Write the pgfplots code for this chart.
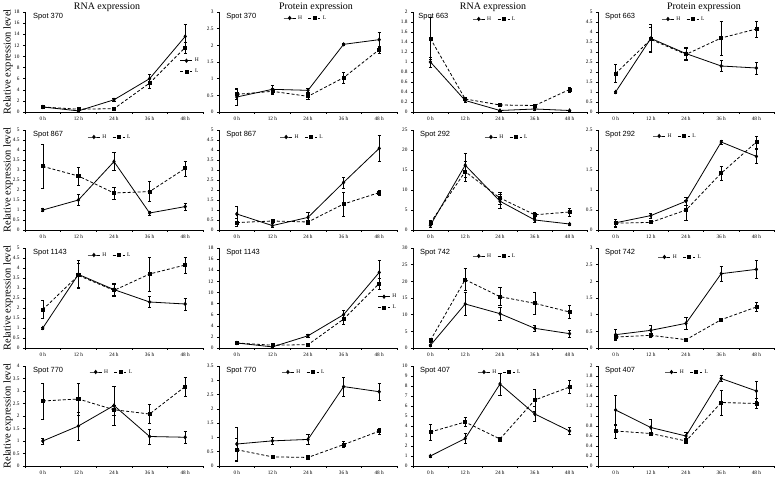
\documentclass[border=0pt]{standalone}
\usepackage{fontspec}
\setmainfont{Liberation Serif}
\setsansfont{Liberation Sans}
\usepackage{pgfplots}
\pgfplotsset{compat=1.18}
\tikzset{spot/.style={anchor=north west, inner sep=0pt, font=\sffamily\fontsize{7.5}{8}\selectfont}}
\pgfplotsset{
  base/.style={
    scale only axis, height=100bp,
    axis x line*=bottom, axis y line*=left, axis line style={-, line width=0.6bp},
    xmin=-0.5, xmax=4.5, ymin=0,
    xtick={0,1,2,3,4}, xticklabels={0 h,12 h,24 h,36 h,48 h},
    minor xtick={-0.5,0.5,1.5,2.5,3.5,4.5},
    every major x tick/.style={draw=none},
    tick align=outside, major tick length=2bp, minor tick length=2bp,
    tick style={line width=0.5bp, black},
    /pgf/number format/assume math mode=true,
    /pgf/number format/fixed, /pgf/number format/1000 sep={},
    tick label style={font=\fontsize{5.3}{6}\selectfont},
    xticklabel style={yshift=1bp},
    clip=false,
    legend style={draw=none, fill=none, inner sep=0pt, legend columns=2, anchor=west,
      font=\fontsize{5.5}{6}\selectfont,
      /tikz/every even column/.append style={column sep=4bp}},
    legend image code/.code={\draw[mark repeat=2,mark phase=2] plot coordinates {(0bp,0bp) (6bp,0bp) (12bp,0bp)};},
  },
  vleg/.style={legend style={legend columns=1, anchor=north west, row sep=2bp, at={(#1)}}},
  hleg/.style={legend style={at={(#1)}}},
  hs/.style={black, line width=0.8bp, mark=diamond*, mark size=1.6bp, mark options={solid},
    error bars/.cd, y dir=both, y explicit, error bar style={line width=0.5bp, solid},
    error mark options={rotate=90, mark size=1.6bp, line width=0.5bp, solid}},
  ls/.style={black, line width=0.8bp, dash pattern=on 3bp off 2bp, mark=square*, mark size=1.5bp, mark options={solid},
    error bars/.cd, y dir=both, y explicit, error bar style={line width=0.5bp, solid},
    error mark options={rotate=90, mark size=1.6bp, line width=0.5bp, solid}},
}
\begin{document}
\begin{tikzpicture}
\useasboundingbox (0bp,0bp) rectangle (778bp,478bp);
% titles
\node[font=\fontsize{10}{12}\selectfont] at (107bp,471bp) {RNA expression};
\node[font=\fontsize{10}{12}\selectfont] at (316bp,471bp) {Protein expression};
\node[font=\fontsize{10}{12}\selectfont] at (493bp,471bp) {RNA expression};
\node[font=\fontsize{10}{12}\selectfont] at (704bp,471bp) {Protein expression};
\foreach \yy in {416,298,180,62}{
  \node[rotate=90, font=\fontsize{10.5}{12}\selectfont] at (8bp,\yy bp) {Relative expression level};
}
%================ ROW 1 ================
% A: Spot 370 RNA
\begin{axis}[base, at={(25bp,366bp)}, anchor=south west, width=178bp, ymax=18, ytick={0,2,4,6,8,10,12,14,16,18}, vleg={0.87,0.56}]
\addplot[hs] table[row sep=\\, y error=e]{x y e\\ 0 0.9 0.1\\ 1 0.2 0.1\\ 2 2.2 0.2\\ 3 6.0 0.8\\ 4 13.6 2.2\\};
\addplot[ls] table[row sep=\\, y error=e]{x y e\\ 0 0.9 0.1\\ 1 0.5 0.2\\ 2 0.6 0.1\\ 3 5.2 0.9\\ 4 11.6 1.0\\};
\legend{H,L}
\node[spot] at (rel axis cs:0.045,0.985) {Spot 370};
\end{axis}
% B: Spot 370 protein
\begin{axis}[base, at={(219bp,366bp)}, anchor=south west, width=178bp, ymax=3, ytick={0,0.5,1,1.5,2,2.5,3}, hleg={0.36,0.94}]
\addplot[hs] table[row sep=\\, y error=e]{x y e\\ 0 0.45 0.25\\ 1 0.68 0.12\\ 2 0.65 0.07\\ 3 2.03 0.02\\ 4 2.17 0.22\\};
\addplot[ls] table[row sep=\\, y error=e]{x y e\\ 0 0.53 0.15\\ 1 0.62 0.1\\ 2 0.47 0.08\\ 3 1.03 0.17\\ 4 1.87 0.1\\};
\legend{H,L}
\node[spot] at (rel axis cs:0.04,0.985) {Spot 370};
\end{axis}
% C: Spot 663 RNA
\begin{axis}[base, at={(413bp,366bp)}, anchor=south west, width=174bp, ymax=2, ytick={0,0.2,0.4,0.6,0.8,1,1.2,1.4,1.6,1.8,2}, hleg={0.34,0.93}]
\addplot[hs] table[row sep=\\, y error=e]{x y e\\ 0 1.0 0.1\\ 1 0.23 0.03\\ 2 0.03 0.01\\ 3 0.06 0.02\\ 4 0.03 0.01\\};
\addplot[ls] table[row sep=\\, y error=e]{x y e\\ 0 1.47 0.42\\ 1 0.26 0.03\\ 2 0.14 0.02\\ 3 0.13 0.02\\ 4 0.45 0.05\\};
\legend{H,L}
\node[spot] at (rel axis cs:0.03,0.985) {Spot 663};
\end{axis}
% D: Spot 663 protein
\begin{axis}[base, at={(598bp,366bp)}, anchor=south west, width=176bp, ymax=5, ytick={0,0.5,1,1.5,2,2.5,3,3.5,4,4.5,5}, hleg={0.36,0.93}]
\addplot[hs] table[row sep=\\, y error=e]{x y e\\ 0 1.0 0.05\\ 1 3.68 0.7\\ 2 2.92 0.3\\ 3 2.3 0.28\\ 4 2.2 0.3\\};
\addplot[ls] table[row sep=\\, y error=e]{x y e\\ 0 1.92 0.45\\ 1 3.63 0.6\\ 2 2.88 0.3\\ 3 3.7 0.85\\ 4 4.15 0.4\\};
\legend{H,L}
\node[spot] at (rel axis cs:0.04,0.985) {Spot 663};
\end{axis}
%================ ROW 2 ================
% E: Spot 867 RNA
\begin{axis}[base, at={(25bp,248bp)}, anchor=south west, width=178bp, ymax=5, ytick={0,0.5,1,1.5,2,2.5,3,3.5,4,4.5,5}, hleg={0.35,0.93}]
\addplot[hs] table[row sep=\\, y error=e]{x y e\\ 0 1.0 0.08\\ 1 1.5 0.27\\ 2 3.42 0.45\\ 3 0.85 0.1\\ 4 1.17 0.17\\};
\addplot[ls] table[row sep=\\, y error=e]{x y e\\ 0 3.18 1.1\\ 1 2.7 0.45\\ 2 1.85 0.3\\ 3 1.92 0.5\\ 4 3.08 0.38\\};
\legend{H,L}
\node[spot] at (rel axis cs:0.045,0.985) {Spot 867};
\end{axis}
% F: Spot 867 protein
\begin{axis}[base, at={(219bp,248bp)}, anchor=south west, width=178bp, ymax=5, ytick={0,0.5,1,1.5,2,2.5,3,3.5,4,4.5,5}, hleg={0.34,0.93}]
\addplot[hs] table[row sep=\\, y error=e]{x y e\\ 0 0.8 0.38\\ 1 0.22 0.1\\ 2 0.63 0.27\\ 3 2.38 0.27\\ 4 4.08 0.65\\};
\addplot[ls] table[row sep=\\, y error=e]{x y e\\ 0 0.37 0.2\\ 1 0.45 0.1\\ 2 0.4 0.1\\ 3 1.3 0.6\\ 4 1.87 0.12\\};
\legend{H,L}
\node[spot] at (rel axis cs:0.04,0.985) {Spot 867};
\end{axis}
% G: Spot 292 RNA
\begin{axis}[base, at={(413bp,248bp)}, anchor=south west, width=174bp, ymax=25, ytick={0,5,10,15,20,25}, hleg={0.41,0.93}]
\addplot[hs] table[row sep=\\, y error=e]{x y e\\ 0 1.2 0.5\\ 1 16.2 3\\ 2 7.2 1.7\\ 3 2.5 0.5\\ 4 1.5 0.3\\};
\addplot[ls] table[row sep=\\, y error=e]{x y e\\ 0 1.8 0.6\\ 1 14.6 2.5\\ 2 8.0 1.5\\ 3 3.8 0.6\\ 4 4.5 1.0\\};
\legend{H,L}
\node[spot] at (rel axis cs:0.04,0.985) {Spot 292};
\end{axis}
% H: Spot 292 protein
\begin{axis}[base, at={(598bp,248bp)}, anchor=south west, width=176bp, ymax=2.5, ytick={0,0.5,1,1.5,2,2.5}, hleg={0.31,0.94}]
\addplot[hs] table[row sep=\\, y error=e]{x y e\\ 0 0.18 0.08\\ 1 0.36 0.07\\ 2 0.72 0.1\\ 3 2.2 0.05\\ 4 1.84 0.18\\};
\addplot[ls] table[row sep=\\, y error=e]{x y e\\ 0 0.17 0.1\\ 1 0.19 0.03\\ 2 0.5 0.25\\ 3 1.42 0.18\\ 4 2.2 0.15\\};
\legend{H,L}
\node[spot] at (rel axis cs:0.04,0.985) {Spot 292};
\end{axis}
%================ ROW 3 ================
% I: Spot 1143 RNA
\begin{axis}[base, at={(25bp,130bp)}, anchor=south west, width=178bp, ymax=5, ytick={0,0.5,1,1.5,2,2.5,3,3.5,4,4.5,5}, hleg={0.35,0.93}]
\addplot[hs] table[row sep=\\, y error=e]{x y e\\ 0 1.0 0.05\\ 1 3.68 0.7\\ 2 2.92 0.3\\ 3 2.3 0.28\\ 4 2.2 0.3\\};
\addplot[ls] table[row sep=\\, y error=e]{x y e\\ 0 1.92 0.45\\ 1 3.63 0.6\\ 2 2.88 0.3\\ 3 3.7 0.85\\ 4 4.15 0.4\\};
\legend{H,L}
\node[spot] at (rel axis cs:0.045,0.985) {Spot 1143};
\end{axis}
% J: Spot 1143 protein
\begin{axis}[base, at={(219bp,130bp)}, anchor=south west, width=178bp, ymax=18, ytick={0,2,4,6,8,10,12,14,16,18}, vleg={0.89,0.56}]
\addplot[hs] table[row sep=\\, y error=e]{x y e\\ 0 0.9 0.1\\ 1 0.2 0.1\\ 2 2.2 0.2\\ 3 6.0 0.8\\ 4 13.6 2.2\\};
\addplot[ls] table[row sep=\\, y error=e]{x y e\\ 0 0.9 0.1\\ 1 0.5 0.2\\ 2 0.6 0.1\\ 3 5.2 0.9\\ 4 11.6 1.0\\};
\legend{H,L}
\node[spot] at (rel axis cs:0.04,0.985) {Spot 1143};
\end{axis}
% K: Spot 742 RNA
\begin{axis}[base, at={(413bp,130bp)}, anchor=south west, width=174bp, ymax=30, ytick={0,5,10,15,20,25,30}, hleg={0.34,0.92}]
\addplot[hs] table[row sep=\\, y error=e]{x y e\\ 0 0.8 0.3\\ 1 13.2 3.5\\ 2 10.3 2\\ 3 5.9 1\\ 4 4.3 1\\};
\addplot[ls] table[row sep=\\, y error=e]{x y e\\ 0 2.3 0.6\\ 1 20.5 3.3\\ 2 15.4 2.7\\ 3 13.4 3.2\\ 4 10.8 2\\};
\legend{H,L}
\node[spot] at (rel axis cs:0.04,0.985) {Spot 742};
\end{axis}
% L: Spot 742 protein
\begin{axis}[base, at={(598bp,130bp)}, anchor=south west, width=176bp, ymax=3, ytick={0,0.5,1,1.5,2,2.5,3}, hleg={0.34,0.91}]
\addplot[hs] table[row sep=\\, y error=e]{x y e\\ 0 0.4 0.17\\ 1 0.53 0.15\\ 2 0.74 0.18\\ 3 2.23 0.22\\ 4 2.36 0.27\\};
\addplot[ls] table[row sep=\\, y error=e]{x y e\\ 0 0.33 0.07\\ 1 0.38 0.05\\ 2 0.25 0.03\\ 3 0.85 0.03\\ 4 1.23 0.13\\};
\legend{H,L}
\node[spot] at (rel axis cs:0.04,0.985) {Spot 742};
\end{axis}
%================ ROW 4 ================
% M: Spot 770 RNA
\begin{axis}[base, at={(25bp,12bp)}, anchor=south west, width=178bp, ymax=4, ytick={0,0.5,1,1.5,2,2.5,3,3.5,4}, hleg={0.36,0.94}]
\addplot[hs] table[row sep=\\, y error=e]{x y e\\ 0 1.0 0.12\\ 1 1.6 0.55\\ 2 2.42 0.78\\ 3 1.18 0.3\\ 4 1.15 0.25\\};
\addplot[ls] table[row sep=\\, y error=e]{x y e\\ 0 2.6 0.72\\ 1 2.68 0.65\\ 2 2.25 0.2\\ 3 2.08 0.38\\ 4 3.18 0.38\\};
\legend{H,L}
\node[spot] at (rel axis cs:0.045,0.985) {Spot 770};
\end{axis}
% N: Spot 770 protein
\begin{axis}[base, at={(219bp,12bp)}, anchor=south west, width=178bp, ymax=3.5, ytick={0,0.5,1,1.5,2,2.5,3,3.5}, hleg={0.35,0.94}]
\addplot[hs] table[row sep=\\, y error=e]{x y e\\ 0 0.77 0.58\\ 1 0.88 0.12\\ 2 0.93 0.18\\ 3 2.78 0.33\\ 4 2.6 0.3\\};
\addplot[ls] table[row sep=\\, y error=e]{x y e\\ 0 0.57 0.4\\ 1 0.32 0.06\\ 2 0.3 0.08\\ 3 0.75 0.1\\ 4 1.22 0.1\\};
\legend{H,L}
\node[spot] at (rel axis cs:0.04,0.985) {Spot 770};
\end{axis}
% O: Spot 407 RNA
\begin{axis}[base, at={(413bp,12bp)}, anchor=south west, width=174bp, ymax=10, ytick={0,1,2,3,4,5,6,7,8,9,10}, hleg={0.37,0.94}]
\addplot[hs] table[row sep=\\, y error=e]{x y e\\ 0 1.0 0.1\\ 1 2.75 0.5\\ 2 8.2 1.1\\ 3 5.2 0.75\\ 4 3.5 0.35\\};
\addplot[ls] table[row sep=\\, y error=e]{x y e\\ 0 3.4 0.8\\ 1 4.4 0.45\\ 2 2.7 0.2\\ 3 6.6 1.1\\ 4 7.9 0.65\\};
\legend{H,L}
\node[spot] at (rel axis cs:0.04,0.985) {Spot 407};
\end{axis}
% P: Spot 407 protein
\begin{axis}[base, at={(598bp,12bp)}, anchor=south west, width=176bp, ymax=2, ytick={0,0.2,0.4,0.6,0.8,1,1.2,1.4,1.6,1.8,2}, hleg={0.38,0.94}]
\addplot[hs] table[row sep=\\, y error=e]{x y e\\ 0 1.12 0.3\\ 1 0.77 0.16\\ 2 0.6 0.07\\ 3 1.75 0.06\\ 4 1.5 0.2\\};
\addplot[ls] table[row sep=\\, y error=e]{x y e\\ 0 0.7 0.14\\ 1 0.65 0.03\\ 2 0.5 0.05\\ 3 1.27 0.25\\ 4 1.25 0.1\\};
\legend{H,L}
\node[spot] at (rel axis cs:0.04,0.985) {Spot 407};
\end{axis}
\end{tikzpicture}
\end{document}
